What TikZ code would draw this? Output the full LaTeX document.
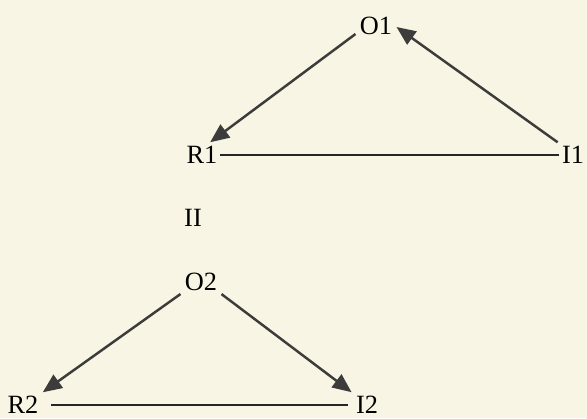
\documentclass[tikz,border=0pt]{standalone}
\usepackage{fontspec}
\setmainfont{Liberation Serif}
\usepackage{tikz}
\usetikzlibrary{positioning,arrows.meta,backgrounds}
\definecolor{paper}{RGB}{248,245,228}
\definecolor{ink}{RGB}{60,60,60}
\tikzset{
  >={Triangle[length=3.8mm,width=3.2mm]},
  tri/.style={font=\fontsize{15}{17}\selectfont,inner sep=1.5pt,text=black},
  rel/.style={->,draw=ink,line width=1.4pt,shorten >=1pt,shorten <=1pt},
  base/.style={draw=black!85,line width=1.4pt},
}
\begin{document}
\begin{tikzpicture}
  \useasboundingbox[fill=paper] (0,0) rectangle (11.74,8.36);
  % upper triangle
  \node[tri] (o1) at (7.52,7.84) {O1};
  \node[tri] (r1) at (4.04,5.26) {R1};
  \node[tri] (i1) at (11.46,5.26) {I1};
  \node[tri] (ii) at (3.86,4.00) {II};
  % lower triangle
  \node[tri] (o2) at (4.02,2.72) {O2};
  \node[tri] (r2) at (0.46,0.26) {R2};
  \node[tri] (i2) at (7.34,0.26) {I2};
  \draw[rel] (o1.200) -- (r1.60);
  \draw[rel] (i1.140) -- (o1.east);
  \draw[base] (r1.east) -- (i1.west);
  \draw[rel] (o2.210) -- (r2.north east);
  \draw[rel] (o2.330) -- (i2.north west);
  \draw[base] ([xshift=2mm]r2.east) -- ([xshift=-1mm]i2.west);
\end{tikzpicture}
\end{document}
